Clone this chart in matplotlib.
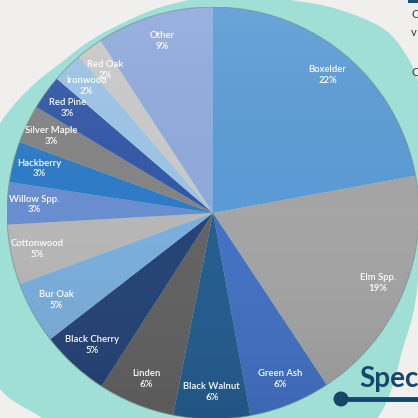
import numpy as np
import matplotlib
matplotlib.use("Agg")
import matplotlib.pyplot as plt
from matplotlib.patches import Polygon, Circle

# species share of the tree inventory (percent), clockwise from 12 o'clock
species = ["Boxelder", "Elm Spp.", "Green Ash", "Black Walnut", "Linden",
           "Black Cherry", "Bur Oak", "Cottonwood", "Willow Spp.", "Hackberry",
           "Silver Maple", "Red Pine", "Ironwood", "Red Oak", "Other"]
share = [22.1, 18.6, 6.4, 6.0, 6.0, 5.4, 4.9, 4.7, 3.3, 3.2, 3.0, 2.7, 2.4, 2.1, 9.2]
colors = ["#5B9BD5", "#A5A5A5", "#4472C4", "#255E91", "#636363",
          "#264478", "#7CAFDD", "#B7B7B7", "#698ED0", "#2F7BC6",
          "#848484", "#3458A8", "#9DC3E6", "#C9C9C9", "#8FAADC"]

BG = "#F0EFED"
TEAL = "#A0DFD6"
NAVY = "#17466B"

W = 418
cx, cy, R = 213, 213, 206  # pie centre / radius in pixels

fig = plt.figure(figsize=(W / 100, W / 100), dpi=100)
fig.patch.set_facecolor(BG)

# --- slide decoration behind the chart (pixel coords, y down)
bg = fig.add_axes([0, 0, 1, 1])
bg.set_xlim(0, W)
bg.set_ylim(W, 0)
bg.axis("off")

# outline of the teal blob, radius around the pie centre by angle
blob_ang = np.array([-140, -129, -90, -51, -36, -15.5, 0, 22, 33, 36, 46, 70, 97, 115, 135, 157, 180])
blob_r = np.array([278, 265, 280, 264, 233, 213, 212, 228, 244, 248, 253, 226, 214, 210, 213, 231, 250])
t = np.arange(-180, 180, 1.0)
rr = np.interp(t, blob_ang, blob_r, period=360)
k = np.ones(7) / 7
rr = np.convolve(np.concatenate([rr[-3:], rr, rr[:3]]), k, mode="valid")
tt = np.deg2rad(t)
bx = cx + rr * np.cos(tt)
by = cy - rr * np.sin(tt)
bg.add_patch(Polygon(np.column_stack([bx, by]), closed=True, fc=TEAL, ec="none"))

# bits of the slide that peek in at the edges
bg.add_patch(plt.Rectangle((408, 0), 12, 2.5, fc="#1F4E79", ec="none"))
for yy, ch in [(15, "C"), (33, "v"), (72, "C")]:
    bg.text(411, yy, ch, fontsize=8, color="#3A3A3A", ha="left", va="center", family="Lato")
bg.plot([341, 430], [399, 399], color=NAVY, lw=3.5, solid_capstyle="butt")
bg.add_patch(Circle((341, 399), 7.5, fc=NAVY, ec="none"))
bg.text(359, 387, "Spec", fontsize=20, fontweight="bold", color=NAVY,
        ha="left", va="baseline", family="Lato")

# --- the pie
ax = fig.add_axes([(cx - R) / W, (W - cy - R) / W, 2 * R / W, 2 * R / W])
ax.patch.set_alpha(0)
wedges, _ = ax.pie(share, colors=colors, startangle=90, counterclock=False,
                   radius=1, wedgeprops=dict(linewidth=0))
ax.set_xlim(-1, 1)
ax.set_ylim(-1, 1)
ax.set_aspect("equal")
ax.axis("off")

# soft top-to-bottom shading like the office gradient fill
grad = np.linspace(1, 0, 256)[:, None]
img = np.zeros((256, 1, 4))
img[..., :3] = grad[..., None] * np.ones(3)
img[..., 3] = 0.10 * np.abs(grad - 0.5) * 2
im = ax.imshow(img, extent=(-1, 1, -1, 1), aspect="auto", zorder=3)
im.set_clip_path(Circle((0, 0), 1, transform=ax.transData))
ax.add_patch(Circle((0, 0), 1.0, fc="none", ec="#6E8F8A", lw=0.8, alpha=0.6, zorder=3))

for w, name, v in zip(wedges, species, share):
    a = np.deg2rad((w.theta1 + w.theta2) / 2)
    ax.text(0.87 * np.cos(a), 0.87 * np.sin(a), f"{name}\n{round(v)}%",
            ha="center", va="center", color="white", fontsize=6.8,
            linespacing=1.25, family="Lato", fontweight="semibold", zorder=4)

fig.savefig("out.png", dpi=100, facecolor=BG)
